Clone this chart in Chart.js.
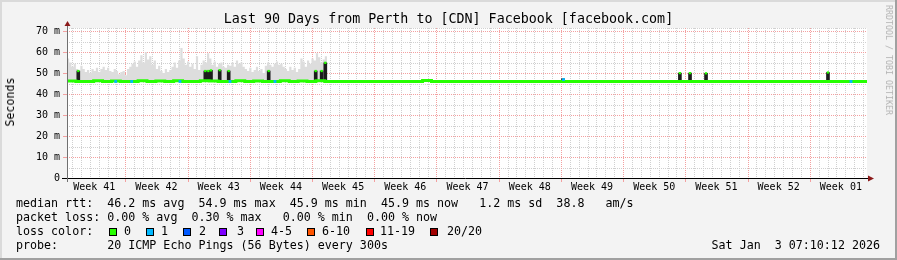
<!DOCTYPE html>
<html>
<head>
<meta charset="utf-8">
<script src="https://cdn.jsdelivr.net/npm/chart.js@4"></script>
<style>
  html, body { margin: 0; padding: 0; background: #f3f3f3; }
  #wrap { position: relative; width: 897px; height: 260px; overflow: hidden; font-family: 'DejaVu Sans Mono', monospace; color: #000; }
  #wrap canvas { position: absolute; left: 0; top: 0; }
  .t { position: absolute; white-space: pre; font-size: 11.67px; line-height: 14px; }
  .box { position: absolute; top: 228px; width: 6px; height: 6px; border: 1px solid #000; }
</style>
</head>
<body>
<div id="wrap">
  <canvas id="smoke" width="897" height="260"></canvas>
  <div class="t" style="left:0;width:897px;text-align:center;top:11px;font-size:13.33px;line-height:16px;">Last 90 Days from Perth to [CDN] Facebook [facebook.com]</div>
  <div class="t" style="left:10px;top:102px;transform:translate(-50%,-50%) rotate(-90deg);">Seconds</div>
  <div class="t" style="left:889px;top:60px;font-size:8.3px;line-height:10px;color:#b4b4b4;transform:translate(-50%,-50%) rotate(90deg);">RRDTOOL / TOBI OETIKER</div>
  <div class="t" style="left:16px;top:196px;">median rtt:  46.2 ms avg  54.9 ms max  45.9 ms min  45.9 ms now   1.2 ms sd  38.8   am/s</div>
  <div class="t" style="left:16px;top:210px;">packet loss: 0.00 % avg  0.30 % max   0.00 % min  0.00 % now</div>
  <div class="t" style="left:16px;top:224px;">loss color:</div>
  <div id="lossKey"></div>
  <div class="t" style="left:16px;top:238px;">probe:       20 ICMP Echo Pings (56 Bytes) every 300s</div>
  <div class="t" style="right:17px;top:238px;">Sat Jan  3 07:10:12 2026</div>
</div>
<script>
// smoke tops (ms), one value every 6 hours from the start of the graph
const smokeTop = [57,55,53,54.5,52,51,53.5,52,50.5,51.5,
  50,52,51,52.5,50.5,52,53,51.5,52.5,51,
  50.5,52,51,49.5,50.5,51,49,52,53,54.5,
  55.5,53,56,58.5,55,60,56.5,58,54,56,
  52,53.5,51,50,52,50.5,51.5,53,55,52.5,
  56,62,57,54,55.5,53,54.5,52,58,51.5,
  54,56,55,59.5,57,54,55.5,53,54.5,55,
  53,52.5,54,53.5,55,53,56,54.5,55,53,
  52,51,52.5,50.5,51.5,53,51,52,50,53.5,
  55,54,53,54.5,55.5,54,54.5,53,52,51,
  53,51.5,52.5,50.5,52,57,55.5,53,56,54.5,
  57,56,59.5,57.5,55,56.5,58,46];
const smokeMin = 46;

// median rtt per day (ms)
const medianRtt = [46.2,46.0,46.0,46.3,46.0,46.2,46.0,46.0,46.4,46.0,
  46.2,46.0,46.3,46.0,46.0,46.4,46.2,46.0,46.0,46.3,
  46.0,46.2,46.0,46.0,46.3,46.0,46.2,46.0,46.4,46.0,
  46.0,46.0,46.0,46.0,46.0,46.0,46.0,46.0,46.0,46.0,
  46.5,46.0,46.0,46.0,46.0,46.0,46.0,46.0,46.0,46.0,
  46.0,46.0,46.0,46.0,46.0,46.0,46.0,46.0,46.0,46.0,
  46.0,46.0,46.0,46.0,46.0,46.0,46.0,46.0,46.0,46.0,
  46.0,46.0,46.0,46.0,46.0,46.0,46.0,46.0,46.0,46.0,
  46.0,46.0,46.0,46.0,46.0,46.0,46.0,46.0,46.0,46.0,46.0];

// dark spikes (day, top ms)
const spikeDays = [1.27,15.56,15.9,16.2,17.18,18.19,22.69,27.98,28.65,29.06,55.8,68.95,70.09,71.89,85.61];
const spikeTop  = [51,51,51,51.3,51.4,51,51,51,51,54.9,47.3,50,50,49.9,50.3];

// 1/20 loss samples
const lossDays = [5.48,7.28,12.71,18.34,23.4,55.86,88.2];
const lossRtt  = [46,46,46,46,46,46.9,46];

const weekLabels = ['Week 41','Week 42','Week 43','Week 44','Week 45','Week 46','Week 47','Week 48','Week 49','Week 50','Week 51','Week 52','Week 01'];
const firstWeekLine = 6.56;   // day of first week boundary
const lossColors = ['#26ff00','#00b8ff','#0059ff','#7e00ff','#ff00ff','#ff5500','#ff0000','#a10000'];
const lossNames  = ['0','1','2','3','4-5','6-10','11-19','20/20'];

// loss colour key
const boxX = [109,146,183,219,256,307,366,430];
const labX = [124,161,199,237,271,322,380,447];
const key = document.getElementById('lossKey');
lossNames.forEach((n, i) => {
  const b = document.createElement('div');
  b.className = 'box'; b.style.left = boxX[i] + 'px'; b.style.background = lossColors[i];
  key.appendChild(b);
  const t = document.createElement('div');
  t.className = 't'; t.style.left = labX[i] + 'px'; t.style.top = '224px'; t.textContent = n;
  key.appendChild(t);
});

const dayTicks = [];
for (let i = 0; i < 90; i++) dayTicks.push(firstWeekLine - 6 + i);
const isWeekLine = i => i % 7 === 6;
const labelTicks = weekLabels.map((l, i) => firstWeekLine - 3.5 + 7 * i);
const yTicks = [0,5,10,15,20,25,30,35,40,45,50,55,60,65,70,71.5];

const minorCol = '#d0d0d0';
const majorCol = '#f3a0a0';

// rrdtool style dotted grid
const dotGrid = {
  id: 'dotGrid',
  beforeDatasetsDraw(chart) {
    const {ctx, chartArea: a, scales: {x, y}} = chart;
    const top = Math.round(a.top), bottom = Math.round(a.bottom);
    const left = Math.round(a.left), right = Math.round(a.right);
    ctx.save();
    const vline = (px, col) => { ctx.fillStyle = col; for (let yy = bottom - 2; yy >= top; yy -= 2) ctx.fillRect(px, yy, 1, 1); };
    const hline = (py, col) => { ctx.fillStyle = col; for (let xx = left + 2; xx < right; xx += 2) ctx.fillRect(xx, py, 1, 1); };
    dayTicks.forEach((d, i) => { if (!isWeekLine(i)) vline(Math.round(x.getPixelForValue(d)), minorCol); });
    yTicks.forEach(v => { if (v % 10 !== 0) hline(Math.round(y.getPixelForValue(v)), minorCol); });
    dayTicks.forEach((d, i) => {
      if (!isWeekLine(i)) return;
      const px = Math.round(x.getPixelForValue(d));
      vline(px, majorCol);
      ctx.fillRect(px, bottom + 1, 1, 3);
    });
    yTicks.forEach(v => {
      if (v % 10 !== 0 || v === 0) return;
      const py = Math.round(y.getPixelForValue(v));
      hline(py, majorCol);
      ctx.fillRect(left - 4, py, 4, 1);
    });
    ctx.restore();
  }
};

const frame = {
  id: 'frame',
  beforeDraw(chart) {
    const {ctx, chartArea: a, width, height} = chart;
    ctx.save();
    ctx.fillStyle = '#f3f3f3'; ctx.fillRect(0, 0, width, height);
    ctx.fillStyle = '#dadada'; ctx.fillRect(0, 0, width, 2); ctx.fillRect(0, 0, 2, height);
    ctx.fillStyle = '#a0a0a0'; ctx.fillRect(0, height - 2, width, 2); ctx.fillRect(width - 2, 0, 2, height);
    ctx.fillStyle = '#ffffff'; ctx.fillRect(a.left, a.top, a.right - a.left, a.bottom - a.top);
    ctx.restore();
  },
  afterDatasetsDraw(chart) {
    const {ctx, chartArea: a} = chart;
    ctx.save();
    ctx.lineWidth = 1;
    ctx.strokeStyle = '#000';
    ctx.beginPath(); ctx.moveTo(a.left - 5, a.bottom + 0.5); ctx.lineTo(a.right + 2, a.bottom + 0.5); ctx.stroke();
    ctx.strokeStyle = '#707070';
    ctx.beginPath(); ctx.moveTo(a.left + 0.5, a.bottom + 4); ctx.lineTo(a.left + 0.5, a.top - 3); ctx.stroke();
    ctx.fillStyle = '#8b1a1a';
    ctx.beginPath(); ctx.moveTo(a.right + 1, a.bottom - 2.5); ctx.lineTo(a.right + 7, a.bottom + 0.5); ctx.lineTo(a.right + 1, a.bottom + 3.5); ctx.closePath(); ctx.fill();
    ctx.beginPath(); ctx.moveTo(a.left - 2.5, a.top - 2); ctx.lineTo(a.left + 0.5, a.top - 7); ctx.lineTo(a.left + 3.5, a.top - 2); ctx.closePath(); ctx.fill();
    ctx.restore();
  }
};

Chart.defaults.font.family = "'DejaVu Sans Mono', monospace";

new Chart(document.getElementById('smoke'), {
  type: 'line',
  data: {
    datasets: [
      {
        label: 'loss 1',
        data: lossDays.map((d, i) => ({x: d, y: lossRtt[i]})),
        showLine: false, pointStyle: 'rect', pointRadius: 2,
        backgroundColor: lossColors[1], borderWidth: 0, order: 1
      },
      {
        label: 'spike median',
        data: spikeDays.map((d, i) => ({x: d, y: spikeTop[i]})).filter(p => p.y > 48),
        showLine: false, pointStyle: 'rect', pointRadius: 1.6,
        backgroundColor: lossColors[0], borderWidth: 0, order: 1
      },
      {
        label: 'median rtt',
        data: medianRtt.map((v, i) => ({x: i, y: v})),
        stepped: true, borderColor: lossColors[0], borderWidth: 3,
        pointRadius: 0, order: 2
      },
      {
        type: 'bar',
        label: 'spikes',
        data: spikeDays.map((d, i) => ({x: d, y: [smokeMin, spikeTop[i]]})),
        backgroundColor: '#1c1c1c', barThickness: 3, grouped: false, order: 3
      },
      {
        label: 'smoke',
        data: smokeTop.map((v, i) => ({x: i * 0.25, y: v})),
        stepped: true, fill: {value: smokeMin},
        backgroundColor: '#dddddd', borderColor: 'rgba(0,0,0,0)', borderWidth: 0,
        pointRadius: 0, order: 4
      }
    ]
  },
  options: {
    responsive: false,
    animation: false,
    devicePixelRatio: 1,
    layout: { padding: { left: 0, right: 30, top: 28, bottom: 62 } },
    plugins: { legend: { display: false }, tooltip: { enabled: false } },
    scales: {
      x: {
        type: 'linear', min: 0, max: 90, offset: false,
        afterBuildTicks: s => { s.ticks = labelTicks.map(v => ({value: v})); },
        afterFit: s => { s.height = 20; },
        grid: { display: false, drawTicks: false, offset: false },
        border: { display: false },
        ticks: {
          autoSkip: false, maxRotation: 0, padding: 3, color: '#000', font: { size: 10 },
          callback: (v, i) => weekLabels[i]
        }
      },
      y: {
        type: 'linear', min: 0, max: 71.5,
        afterBuildTicks: s => { s.ticks = yTicks.filter(v => v % 10 === 0).map(v => ({value: v})); },
        afterFit: s => { s.width = 67; },
        grid: { display: false, drawTicks: false },
        border: { display: false },
        ticks: {
          padding: 7, color: '#000', font: { size: 10 },
          callback: v => v === 0 ? '0' : v + ' m'
        }
      }
    }
  },
  plugins: [frame, dotGrid]
});
</script>
</body>
</html>
